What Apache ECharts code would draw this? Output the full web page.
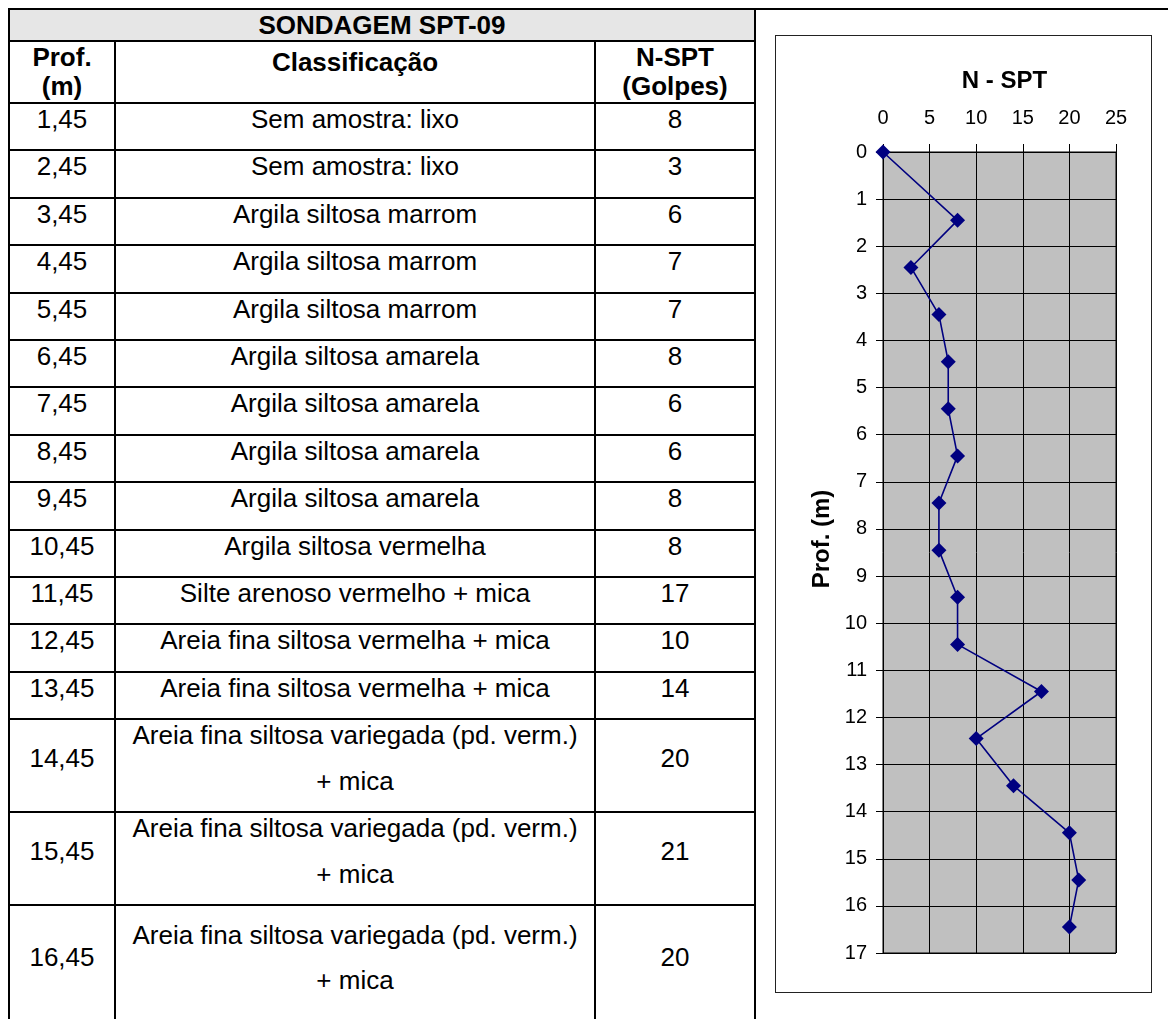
<!DOCTYPE html>
<html><head><meta charset="utf-8">
<script src="https://cdn.jsdelivr.net/npm/echarts@6/dist/echarts.min.js"></script>
<style>
html,body{margin:0;padding:0;width:1168px;height:1019px;overflow:hidden;background:#fff;font-family:"Liberation Sans",Arial,sans-serif;}
#topline{position:absolute;left:756px;top:8px;width:412px;height:2px;background:#000;}
#table{position:absolute;left:8px;top:8px;width:748px;display:grid;grid-template-columns:104px 478px 158px;gap:2px;padding:2px;background:#000;box-sizing:border-box;}
.c{background:#fff;display:flex;align-items:center;justify-content:center;text-align:center;color:#000;}
.c span{position:relative;top:-7px;line-height:45.4px;font-size:26px;padding:0 6px;}
.c.title{grid-column:1 / span 3;background:#e6e6e6;height:30px;}
.c.title span{top:0;line-height:30px;font-weight:bold;}
.c.h{height:60px;}
.c.h span{top:0;line-height:29px;font-weight:bold;}
.c.h span.one{top:-10px;}
.c.last{min-height:118px;}
#chart{position:absolute;left:775px;top:35px;width:377px;height:958px;border:1px solid #222;box-sizing:border-box;background:#fff;}
</style>
</head>
<body>
<div id="topline"></div>
<div id="table"></div>
<div id="chart"></div>
<script>
// ---- data ----
const tableTitle = 'SONDAGEM SPT-09';
const headProf = ['Prof.', '(m)'];
const headClass = 'Classificação';
const headN = ['N-SPT', '(Golpes)'];
const depths = [1.45, 2.45, 3.45, 4.45, 5.45, 6.45, 7.45, 8.45, 9.45, 10.45, 11.45, 12.45, 13.45, 14.45, 15.45, 16.45];
const classes = [
  'Sem amostra: lixo',
  'Sem amostra: lixo',
  'Argila siltosa marrom',
  'Argila siltosa marrom',
  'Argila siltosa marrom',
  'Argila siltosa amarela',
  'Argila siltosa amarela',
  'Argila siltosa amarela',
  'Argila siltosa amarela',
  'Argila siltosa vermelha',
  'Silte arenoso vermelho + mica',
  'Areia fina siltosa vermelha + mica',
  'Areia fina siltosa vermelha + mica',
  'Areia fina siltosa variegada (pd. verm.) + mica',
  'Areia fina siltosa variegada (pd. verm.) + mica',
  'Areia fina siltosa variegada (pd. verm.) + mica'
];
const nspt = [8, 3, 6, 7, 7, 8, 6, 6, 8, 8, 17, 10, 14, 20, 21, 20];
// chart starts at the origin point
const chartDepth = [0].concat(depths);
const chartN = [0].concat(nspt);
const chartTitle = 'N - SPT';
const yAxisName = 'Prof. (m)';

// ---- table ----
const tbl = document.getElementById('table');
function cell(cls, html) {
  const d = document.createElement('div');
  d.className = 'c ' + cls;
  d.innerHTML = html;
  tbl.appendChild(d);
}
cell('title', '<span>' + tableTitle + '</span>');
cell('h', '<span>' + headProf.join('<br>') + '</span>');
cell('h', '<span class="one">' + headClass + '</span>');
cell('h', '<span>' + headN.join('<br>') + '</span>');
depths.forEach((d, i) => {
  const extra = i === depths.length - 1 ? 'last' : '';
  cell(extra, '<span>' + d.toFixed(2).replace('.', ',') + '</span>');
  cell(extra, '<span>' + classes[i] + '</span>');
  cell(extra, '<span>' + nspt[i] + '</span>');
});

// ---- chart ----
const FONT = '"Liberation Sans", Arial, sans-serif';
const chart = echarts.init(document.getElementById('chart'));
chart.setOption({
  animation: false,
  title: {
    text: chartTitle, left: 223.5, top: 28, textAlign: 'center',
    textStyle: { fontFamily: FONT, fontSize: 24, fontWeight: 'bold', color: '#000' }
  },
  grid: { left: 107, top: 116, width: 233, height: 801, show: true, backgroundColor: '#C0C0C0', borderColor: '#000', borderWidth: 1 },
  xAxis: {
    type: 'value', position: 'top', min: 0, max: 25, interval: 5,
    axisLine: { show: true, lineStyle: { color: '#000', width: 1 } },
    axisTick: { show: true, length: 8, lineStyle: { color: '#000' } },
    axisLabel: { margin: 24, fontSize: 20, color: '#000', fontFamily: FONT },
    splitLine: { show: true, lineStyle: { color: '#000', width: 1 } }
  },
  yAxis: {
    type: 'value', inverse: true, min: 0, max: 17, interval: 1,
    axisLine: { show: true, lineStyle: { color: '#000', width: 1 } },
    axisTick: { show: true, length: 7, lineStyle: { color: '#000' } },
    axisLabel: { margin: 16, fontSize: 20, color: '#000', fontFamily: FONT },
    splitLine: { show: true, lineStyle: { color: '#000', width: 1 } }
  },
  graphic: [{
    type: 'text', x: 46, y: 503, rotation: Math.PI / 2,
    style: { text: yAxisName, fontFamily: FONT, fontSize: 24, fontWeight: 'bold', fill: '#000',
      textAlign: 'center', textVerticalAlign: 'middle', align: 'center', verticalAlign: 'middle' }
  }],
  series: [{
    type: 'line', clip: false,
    data: chartN.map((n, i) => [n, chartDepth[i]]),
    symbol: 'diamond', symbolSize: 15,
    lineStyle: { color: '#000080', width: 1.6 },
    itemStyle: { color: '#000080' }
  }]
});
</script>
</body></html>
